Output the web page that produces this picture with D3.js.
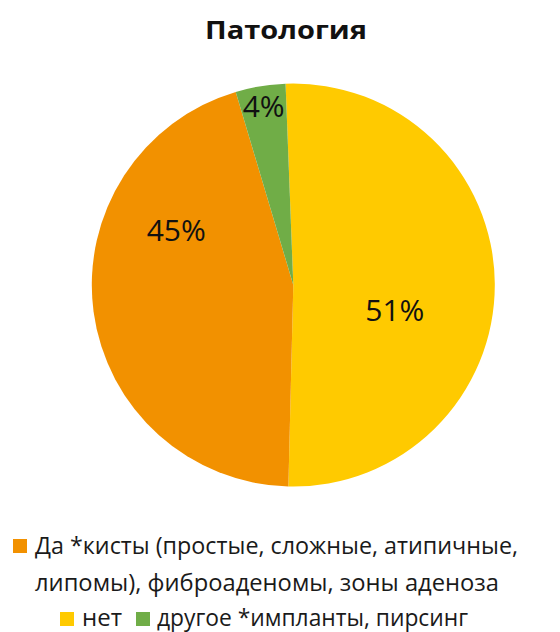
<!DOCTYPE html>
<html>
<head>
<meta charset="utf-8">
<script src="https://cdn.jsdelivr.net/npm/d3@7"></script>
<style>
  html, body { margin: 0; padding: 0; background: #fff; }
  svg { display: block; font-family: "Open Sans", "Noto Sans", sans-serif; }
</style>
</head>
<body>
<svg id="chart" width="560" height="632"></svg>
<script>
// Chart data
const title = "Патология";
const categories = [
  "Да *кисты (простые, сложные, атипичные, липомы), фиброаденомы, зоны аденоза",
  "нет",
  "другое *импланты, пирсинг"
];
const values = [45, 51, 4];
const colors = ["#F29100", "#FFCA00", "#70AD47"];
// clockwise order of slices starting near 12 o'clock
const sliceOrder = [1, 0, 2];

// Layout
const W = 560, H = 632;
const cx = 293.3, cy = 285, R = 201.5;
const startDeg = -2.2;
// label placement inside each slice: fraction along the slice angle, fraction of radius
const labelPlace = { 0: [0.70, 0.64], 1: [0.58, 0.52], 2: [0.5, 0.90] };

const svg = d3.select("#chart");

svg.append("text")
  .attr("x", 286).attr("y", 39)
  .attr("text-anchor", "middle")
  .attr("font-size", 25.5).attr("font-weight", 700)
  .attr("fill", "#111")
  .attr("textLength", 162).attr("lengthAdjust", "spacingAndGlyphs")
  .text(title);

const rad = d => d * Math.PI / 180;
const pie = d3.pie()
  .sort(null)
  .value(i => values[i])
  .startAngle(rad(startDeg))
  .endAngle(rad(startDeg) + 2 * Math.PI);
const arcs = pie(sliceOrder);
const arc = d3.arc().innerRadius(0).outerRadius(R);

const g = svg.append("g").attr("transform", `translate(${cx},${cy})`);
g.selectAll("path.slice")
  .data(arcs)
  .join("path")
  .attr("class", "slice")
  .attr("d", arc)
  .attr("fill", d => colors[d.data]);

const total = d3.sum(values);
const pct = d3.format(".0%");
g.selectAll("text.lbl")
  .data(arcs)
  .join("text")
  .attr("class", "lbl")
  .attr("transform", d => {
    const [t, rf] = labelPlace[d.data];
    const a = d.startAngle + t * (d.endAngle - d.startAngle);
    const r = rf * R;
    return `translate(${r * Math.sin(a)},${-r * Math.cos(a)})`;
  })
  .attr("text-anchor", "middle")
  .attr("dy", "0.35em")
  .attr("font-size", 30)
  .attr("fill", "#111")
  .text(d => pct(values[d.data] / total));

// Legend
const legendFont = 24.5;
const leg = svg.append("g");
function swatch(x, y, i) {
  leg.append("rect").attr("x", x).attr("y", y).attr("width", 14).attr("height", 14)
    .attr("fill", colors[i]);
}
function ltext(x, y, s, len) {
  const t = leg.append("text").attr("x", x).attr("y", y)
    .attr("font-size", legendFont).attr("fill", "#1a1a1a").text(s);
  if (len) t.attr("textLength", len).attr("lengthAdjust", "spacingAndGlyphs");
  return t;
}
const cut = categories[0].indexOf("атипичные,") + "атипичные,".length;
const firstLines = [categories[0].slice(0, cut), categories[0].slice(cut + 1)];
swatch(13, 539, 0);
ltext(35, 554, firstLines[0], 483);
ltext(35, 591, firstLines[1], 464);
swatch(60, 612, 1);
ltext(82, 626, categories[1], 40);
swatch(136, 612, 2);
ltext(157, 626, categories[2], 311);
</script>
</body>
</html>
